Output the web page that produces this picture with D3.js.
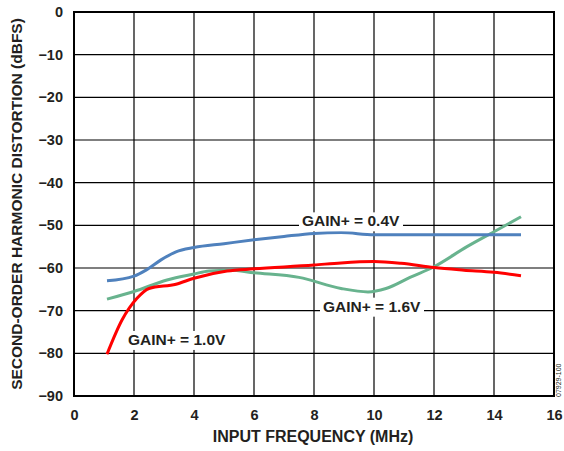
<!DOCTYPE html>
<html>
<head>
<meta charset="utf-8">
<script src="https://cdn.jsdelivr.net/npm/d3@7"></script>
<style>
  body { margin: 0; background: #fff; }
  text { font-family: "Liberation Sans", Arial, sans-serif; font-weight: bold; fill: #231f20; }
</style>
</head>
<body>
<script>
// frequency (MHz) for each series
var freqBlue  = [1.1, 2.0, 2.4, 2.9, 3.4, 4.0, 5.0, 6.0, 7.0, 8.0, 8.9, 10.0, 11.0, 12.0, 13.0, 14.0, 14.9];
var gainBlue  = [-63.0, -61.9, -60.5, -58.1, -56.2, -55.2, -54.3, -53.4, -52.6, -51.9, -51.7, -52.2, -52.2, -52.2, -52.2, -52.2, -52.2];

var freqRed   = [1.1, 1.6, 2.1, 2.5, 3.4, 4.0, 5.1, 6.0, 8.0, 8.9, 10.0, 10.9, 12.0, 13.0, 14.0, 14.9];
var gainRed   = [-80.2, -72.2, -67.1, -64.8, -63.8, -62.4, -60.7, -60.2, -59.3, -58.8, -58.5, -58.9, -59.9, -60.5, -61.0, -61.8];

var freqGreen = [1.1, 2.0, 3.1, 4.0, 4.5, 5.2, 6.0, 7.5, 8.9, 9.8, 10.4, 11.2, 12.0, 13.1, 14.0, 14.9];
var gainGreen = [-67.3, -65.5, -62.8, -61.4, -60.7, -60.5, -61.1, -62.2, -64.8, -65.6, -64.8, -62.2, -59.7, -55.0, -51.5, -48.0];

var xTicks = [0, 2, 4, 6, 8, 10, 12, 14, 16];
var yTicks = [0, -10, -20, -30, -40, -50, -60, -70, -80, -90];

var W = 564, H = 451;
var mLeft = 74, mRight = 554, mTop = 12, mBottom = 396;

var svg = d3.select('body').append('svg')
  .attr('width', W)
  .attr('height', H);

var x = d3.scaleLinear().domain([0, 16]).range([mLeft, mRight]);
var y = d3.scaleLinear().domain([-90, 0]).range([mBottom, mTop]);

// grid
svg.append('g').selectAll('line')
  .data(xTicks.slice(1, -1))
  .enter().append('line')
  .attr('x1', function (d) { return x(d); })
  .attr('x2', function (d) { return x(d); })
  .attr('y1', mTop).attr('y2', mBottom)
  .attr('stroke', '#000').attr('stroke-width', 1.2);
svg.append('g').selectAll('line')
  .data(yTicks.slice(1, -1))
  .enter().append('line')
  .attr('x1', mLeft).attr('x2', mRight)
  .attr('y1', function (d) { return y(d); })
  .attr('y2', function (d) { return y(d); })
  .attr('stroke', '#000').attr('stroke-width', 1.2);

// axes (labels only, frame drawn separately)
var xAxis = svg.append('g')
  .attr('transform', 'translate(0,' + mBottom + ')')
  .call(d3.axisBottom(x).tickValues(xTicks).tickSize(0).tickPadding(14));
var yAxis = svg.append('g')
  .attr('transform', 'translate(' + mLeft + ',0)')
  .call(d3.axisLeft(y).tickValues(yTicks).tickSize(0).tickPadding(11)
    .tickFormat(function (d) { return d === 0 ? '0' : '\u2212' + Math.abs(d); }));
[xAxis, yAxis].forEach(function (a) {
  a.select('.domain').remove();
  a.selectAll('text').style('font-size', '14.5px')
    .style('font-family', '"Liberation Sans", Arial, sans-serif')
    .style('font-weight', 'bold').attr('fill', '#231f20');
});

svg.append('rect')
  .attr('x', mLeft).attr('y', mTop)
  .attr('width', mRight - mLeft).attr('height', mBottom - mTop)
  .attr('fill', 'none').attr('stroke', '#000').attr('stroke-width', 2);

// series
var line = d3.line()
  .x(function (d) { return x(d[0]); })
  .y(function (d) { return y(d[1]); })
  .curve(d3.curveMonotoneX);

var series = [
  { f: freqGreen, v: gainGreen, color: '#68b38e' },
  { f: freqRed,   v: gainRed,   color: '#ff0000' },
  { f: freqBlue,  v: gainBlue,  color: '#4f81bd' }
];
series.forEach(function (s) {
  svg.append('path')
    .datum(d3.zip(s.f, s.v))
    .attr('d', line)
    .attr('fill', 'none')
    .attr('stroke', s.color)
    .attr('stroke-width', 3);
});

// labels with white boxes
var labels = [
  { t: 'GAIN+ = 0.4V', f: 7.6, v: -50 },
  { t: 'GAIN+ = 1.6V', f: 8.3, v: -70 },
  { t: 'GAIN+ = 1.0V', f: 1.8, v: -77.8 }
];
labels.forEach(function (l) {
  var g = svg.append('g');
  var t = g.append('text')
    .attr('x', x(l.f)).attr('y', y(l.v) + 1)
    .style('font-size', '15.5px')
    .text(l.t);
  var bb = t.node().getBBox();
  g.insert('rect', 'text')
    .attr('x', bb.x - 3).attr('y', bb.y)
    .attr('width', bb.width + 6).attr('height', bb.height + 2)
    .attr('fill', '#fff');
});

// axis titles
svg.append('text')
  .attr('x', (mLeft + mRight) / 2 - 1).attr('y', 442)
  .attr('text-anchor', 'middle')
  .style('font-size', '16px')
  .text('INPUT FREQUENCY (MHz)');
svg.append('text')
  .attr('transform', 'translate(22,' + (mTop + mBottom) / 2 + ') rotate(-90)')
  .attr('text-anchor', 'middle')
  .style('font-size', '15.5px')
  .text('SECOND-ORDER HARMONIC DISTORTION (dBFS)');

// figure id
svg.append('text')
  .attr('transform', 'translate(561,397) rotate(-90)')
  .style('font-size', '7px')
  .style('font-weight', 'normal')
  .attr('fill', '#888')
  .text('07929-100');
</script>
</body>
</html>
